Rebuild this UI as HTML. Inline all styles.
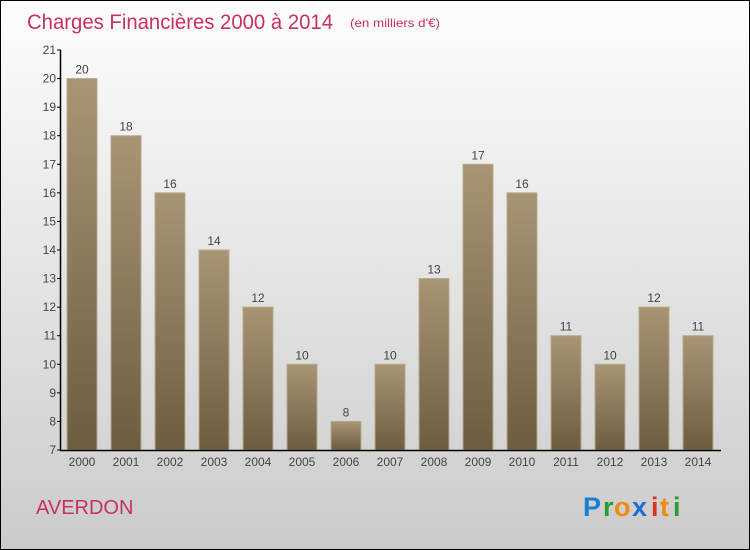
<!DOCTYPE html>
<html><head><meta charset="utf-8"><style>
body{margin:0;width:750px;height:550px;overflow:hidden}
svg{display:block;font-family:"Liberation Sans",sans-serif}
</style></head><body>
<svg width="750" height="550">
<defs>
<linearGradient id="bg" x1="0" y1="0" x2="0" y2="1"><stop offset="0" stop-color="#fdfdfd"/><stop offset="1" stop-color="#cbcbcb"/></linearGradient>
<linearGradient id="bar" x1="0" y1="0" x2="0" y2="1"><stop offset="0" stop-color="#a79574"/><stop offset="1" stop-color="#6d5d40"/></linearGradient>
</defs>
<rect x="0.5" y="0.5" width="749" height="549" fill="url(#bg)" stroke="#000"/>
<text x="27" y="29" font-size="21" fill="#c8305f" textLength="306" lengthAdjust="spacingAndGlyphs">Charges Financières 2000 à 2014</text>
<text x="350" y="27" font-size="12" fill="#c8305f" textLength="90" lengthAdjust="spacingAndGlyphs">(en milliers d'€)</text>
<g id="plot"></g>
<text x="36" y="514" font-size="20" fill="#c8305f">AVERDON</text>
<g font-size="27" font-weight="bold" font-family="'Liberation Sans',sans-serif">
<text x="583" y="516" fill="#1a7fd6">P</text><text x="603" y="516" fill="#2a9a3a">r</text><text x="614" y="516" fill="#f08a10">o</text><text x="632" y="516" fill="#1a6fd0">x</text><text x="651" y="516" fill="#e03020">i</text><text x="660" y="516" fill="#f08a10">t</text><text x="673" y="516" fill="#2a9a3a">i</text>
</g>
</svg>
<script>
const years=["2000","2001","2002","2003","2004","2005","2006","2007","2008","2009","2010","2011","2012","2013","2014"];
const values=[20,18,16,14,12,10,8,10,13,17,16,11,10,12,11];
const yTicks=[7,8,9,10,11,12,13,14,15,16,17,18,19,20,21];
const NS="http://www.w3.org/2000/svg";
const g=document.getElementById('plot');
const y=v=>450-(v-7)*(400/14);
const x=i=>82+i*44;
function el(t,a,txt){const e=document.createElementNS(NS,t);for(const k in a)e.setAttribute(k,a[k]);if(txt!=null)e.textContent=txt;g.appendChild(e);return e;}
values.forEach((v,i)=>{
 const r=el('rect',{x:x(i)-15,y:y(v),width:30,height:450-y(v),fill:'url(#bar)',stroke:'#b8a888','stroke-width':1});
 
 
 const t=el('text',{x:x(i),y:y(v)-5,'text-anchor':'middle','font-size':12,fill:'#444'},v);
 
 
 const xl=el('text',{x:x(i),y:466,'text-anchor':'middle','font-size':12,fill:'#444'},years[i]);
 
 
});
yTicks.forEach(v=>{
 const l=el('line',{x1:57,x2:61,y1:y(v),y2:y(v),stroke:'#000'});
 
 
 const t=el('text',{x:56,y:y(v)+4,'text-anchor':'end','font-size':12,fill:'#444'},v);
 
 
});
const ya=el('line',{x1:60.5,x2:60.5,y1:50,y2:450.5,stroke:'#000','stroke-width':1.5});


const xa=el('line',{x1:60,x2:721,y1:450.5,y2:450.5,stroke:'#000','stroke-width':1.5});


</script>
</body></html>
